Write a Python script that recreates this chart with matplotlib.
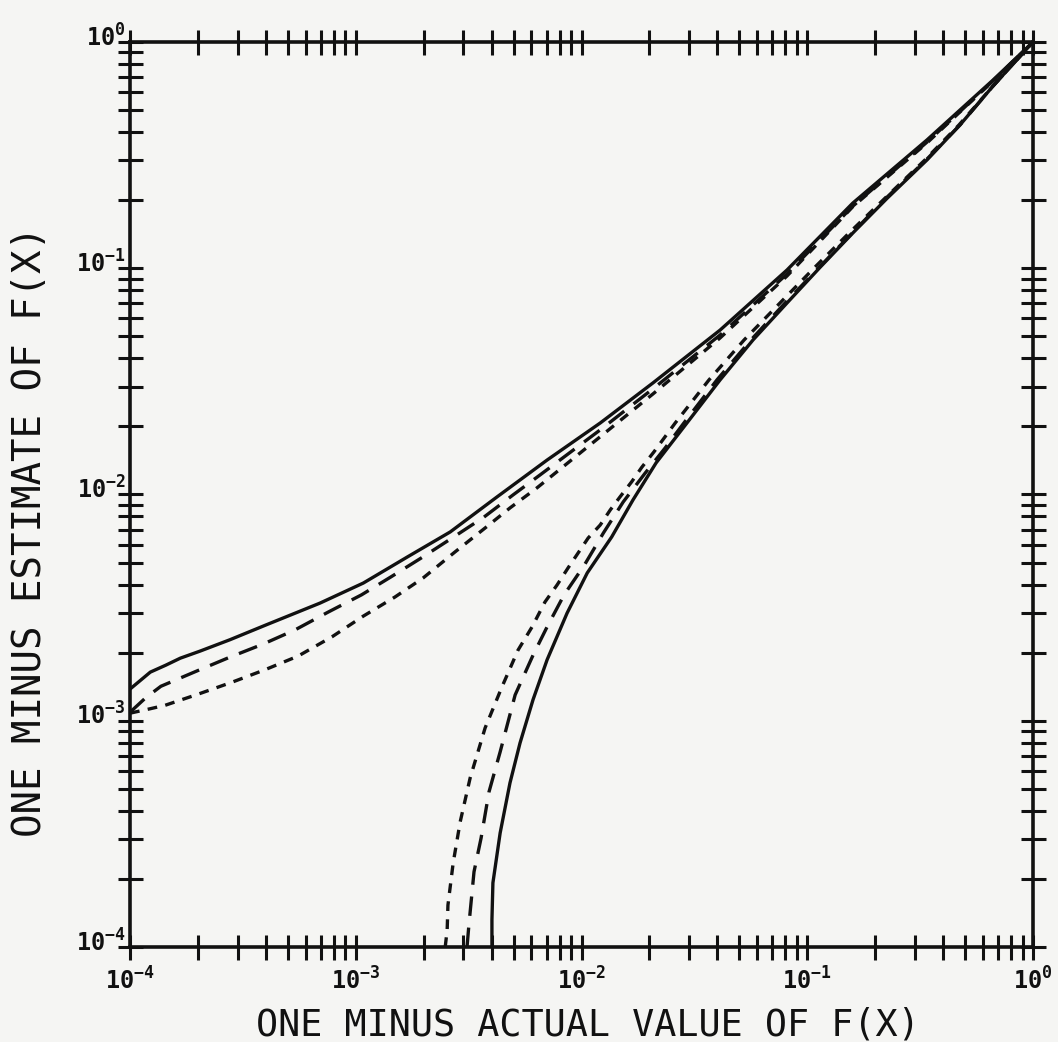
import matplotlib
matplotlib.use("Agg")
import matplotlib.pyplot as plt
import matplotlib.transforms as mtransforms
import numpy as np
from matplotlib.ticker import LogLocator, FuncFormatter, NullFormatter

# upper family of curves
upper_solid_x = [1.0e-4, 1.23e-4, 1.44e-4, 1.67e-4, 2.04e-4, 2.77e-4, 4.00e-4, 6.94e-4, 1.08e-3, 1.69e-3,
                 2.62e-3, 4.22e-3, 7.04e-3, 1.21e-2, 2.07e-2, 4.11e-2, 8.13e-2, 0.159, 0.339, 0.665, 1.0]
upper_solid_y = [1.38e-3, 1.64e-3, 1.76e-3, 1.89e-3, 2.03e-3, 2.28e-3, 2.65e-3, 3.31e-3, 4.06e-3, 5.29e-3,
                 6.83e-3, 9.75e-3, 1.42e-2, 2.07e-2, 3.11e-2, 5.33e-2, 9.82e-2, 0.194, 0.369, 0.679, 1.0]

upper_long_x = [1.0e-4, 1.17e-4, 1.37e-4, 1.98e-4, 2.77e-4, 3.88e-4, 5.38e-4, 7.54e-4, 1.06e-3, 1.43e-3,
                1.95e-3, 2.67e-3, 3.70e-3, 4.97e-3, 6.55e-3, 1.21e-2, 2.07e-2, 4.11e-2, 8.13e-2, 0.159,
                0.339, 0.665, 1.0]
upper_long_y = [1.09e-3, 1.26e-3, 1.42e-3, 1.66e-3, 1.91e-3, 2.18e-3, 2.52e-3, 3.02e-3, 3.60e-3, 4.32e-3,
                5.24e-3, 6.42e-3, 7.95e-3, 9.95e-3, 1.22e-2, 1.93e-2, 2.93e-2, 5.07e-2, 9.43e-2, 0.188,
                0.361, 0.673, 1.0]

upper_short_x = [1.0e-4, 1.23e-4, 1.43e-4, 2.00e-4, 2.83e-4, 3.96e-4, 5.55e-4, 7.85e-4, 1.08e-3, 1.49e-3,
                 1.99e-3, 2.75e-3, 3.74e-3, 4.82e-3, 6.35e-3, 1.21e-2, 2.07e-2, 4.11e-2, 8.13e-2, 0.159,
                 0.339, 0.665, 1.0]
upper_short_y = [1.08e-3, 1.13e-3, 1.17e-3, 1.31e-3, 1.48e-3, 1.68e-3, 1.93e-3, 2.35e-3, 2.90e-3, 3.52e-3,
                 4.28e-3, 5.57e-3, 7.11e-3, 8.72e-3, 1.07e-2, 1.80e-2, 2.78e-2, 4.92e-2, 9.24e-2, 0.187,
                 0.358, 0.673, 1.0]

# lower family of curves
lower_solid_x = [4.01e-3, 4.01e-3, 4.05e-3, 4.36e-3, 4.82e-3, 5.34e-3, 6.10e-3, 7.04e-3, 8.63e-3, 1.06e-2,
                 1.36e-2, 1.69e-2, 2.14e-2, 2.93e-2, 4.11e-2, 5.75e-2, 8.13e-2, 0.114, 0.159, 0.226,
                 0.339, 0.475, 0.665, 1.0]
lower_solid_y = [1.0e-4, 1.32e-4, 1.92e-4, 3.19e-4, 5.31e-4, 7.97e-4, 1.24e-3, 1.86e-3, 2.99e-3, 4.50e-3,
                 6.49e-3, 9.46e-3, 1.38e-2, 2.07e-2, 3.21e-2, 4.82e-2, 7.02e-2, 0.101, 0.143, 0.204,
                 0.301, 0.430, 0.639, 1.0]

lower_long_x = [3.11e-3, 3.17e-3, 3.34e-3, 3.59e-3, 3.89e-3, 4.36e-3, 5.08e-3, 6.10e-3, 7.04e-3, 8.37e-3,
                1.03e-2, 1.25e-2, 1.53e-2, 1.91e-2, 2.34e-2, 2.84e-2, 3.98e-2, 5.63e-2, 7.97e-2, 0.113,
                0.158, 0.223, 0.336, 0.475, 0.665, 1.0]
lower_long_y = [1.0e-4, 1.25e-4, 2.15e-4, 3.03e-4, 4.84e-4, 7.28e-4, 1.30e-3, 1.95e-3, 2.60e-3, 3.60e-3,
                4.88e-3, 6.76e-3, 9.27e-3, 1.24e-2, 1.60e-2, 2.07e-2, 3.21e-2, 4.82e-2, 7.02e-2, 0.101,
                0.143, 0.204, 0.301, 0.430, 0.639, 1.0]

lower_short_x = [2.49e-3, 2.54e-3, 2.56e-3, 2.70e-3, 2.90e-3, 3.21e-3, 3.74e-3, 4.44e-3, 5.23e-3, 6.04e-3,
                 6.89e-3, 7.79e-3, 8.71e-3, 1.07e-2, 1.21e-2, 1.34e-2, 1.48e-2, 1.67e-2, 1.85e-2, 2.09e-2,
                 2.60e-2, 3.67e-2, 5.25e-2, 7.57e-2, 0.108, 0.153, 0.221, 0.332, 0.470, 0.665, 1.0]
lower_short_y = [1.0e-4, 1.19e-4, 1.53e-4, 2.35e-4, 3.57e-4, 5.58e-4, 9.29e-4, 1.41e-3, 2.05e-3, 2.60e-3,
                 3.35e-3, 3.98e-3, 4.73e-3, 6.42e-3, 7.33e-3, 8.54e-3, 9.75e-3, 1.14e-2, 1.32e-2, 1.54e-2,
                 2.07e-2, 3.21e-2, 4.82e-2, 7.02e-2, 0.101, 0.143, 0.204, 0.301, 0.430, 0.639, 1.0]

x_label = "ONE MINUS ACTUAL VALUE OF F(X)"
y_label = "ONE MINUS ESTIMATE OF F(X)"

# style
bg = "#f5f5f3"
ink = "#111111"
plt.rcParams['font.family'] = 'DejaVu Sans Mono'
plt.rcParams['mathtext.fontset'] = 'custom'
plt.rcParams['mathtext.rm'] = 'DejaVu Sans Mono:bold'
plt.rcParams['mathtext.it'] = 'DejaVu Sans Mono:bold'
plt.rcParams['mathtext.bf'] = 'DejaVu Sans Mono:bold'
plt.rcParams['mathtext.default'] = 'rm'
plt.rcParams['lines.scale_dashes'] = False

long_dash = (0, (14, 8.5))
short_dash = (0, (7, 6))

fig = plt.figure(figsize=(10.58, 10.42), dpi=100, facecolor=bg)
ax = fig.add_axes([0.1229, 0.0912, 0.8535, 0.8685], facecolor=bg)

lw = 2.4
ax.plot(upper_solid_x, upper_solid_y, color=ink, lw=lw)
ax.plot(upper_long_x, upper_long_y, color=ink, lw=lw, linestyle=long_dash)
ax.plot(upper_short_x, upper_short_y, color=ink, lw=lw, linestyle=short_dash)
ax.plot(lower_solid_x, lower_solid_y, color=ink, lw=lw)
ax.plot(lower_long_x, lower_long_y, color=ink, lw=lw, linestyle=long_dash)
ax.plot(lower_short_x, lower_short_y, color=ink, lw=lw, linestyle=short_dash)

ax.set_xscale('log')
ax.set_yscale('log')
ax.set_xlim(1e-4, 1)
ax.set_ylim(1e-4, 1)

fmt = FuncFormatter(lambda v, pos: r'$10^{%d}$' % int(round(np.log10(v))))
for axis in (ax.xaxis, ax.yaxis):
    axis.set_major_locator(LogLocator(base=10, numticks=10))
    axis.set_minor_locator(LogLocator(base=10, subs=range(2, 10), numticks=20))
    axis.set_major_formatter(fmt)
    axis.set_minor_formatter(NullFormatter())

for s in ax.spines.values():
    s.set_linewidth(2.6)
    s.set_color(ink)

ax.tick_params(which='both', direction='inout', length=18, width=2.2, color=ink,
               top=True, right=True, labelsize=17, labelcolor=ink)
ax.tick_params(axis='x', pad=6)
ax.tick_params(axis='y', pad=-6)

# y tick labels sit a little above their ticks in the original
fig.canvas.draw()
shift = mtransforms.ScaledTranslation(0, 5 / 72, fig.dpi_scale_trans)
for lab in ax.yaxis.get_majorticklabels():
    lab.set_transform(lab.get_transform() + shift)

fig.text(0.5558, 0.0067, x_label, ha='center', va='baseline', fontsize=26.5, color=ink)
fig.text(0.028, 0.4904, y_label, ha='center', va='center', rotation=90, fontsize=28.2, color=ink)

fig.savefig("out.png", dpi=100, facecolor=bg)
